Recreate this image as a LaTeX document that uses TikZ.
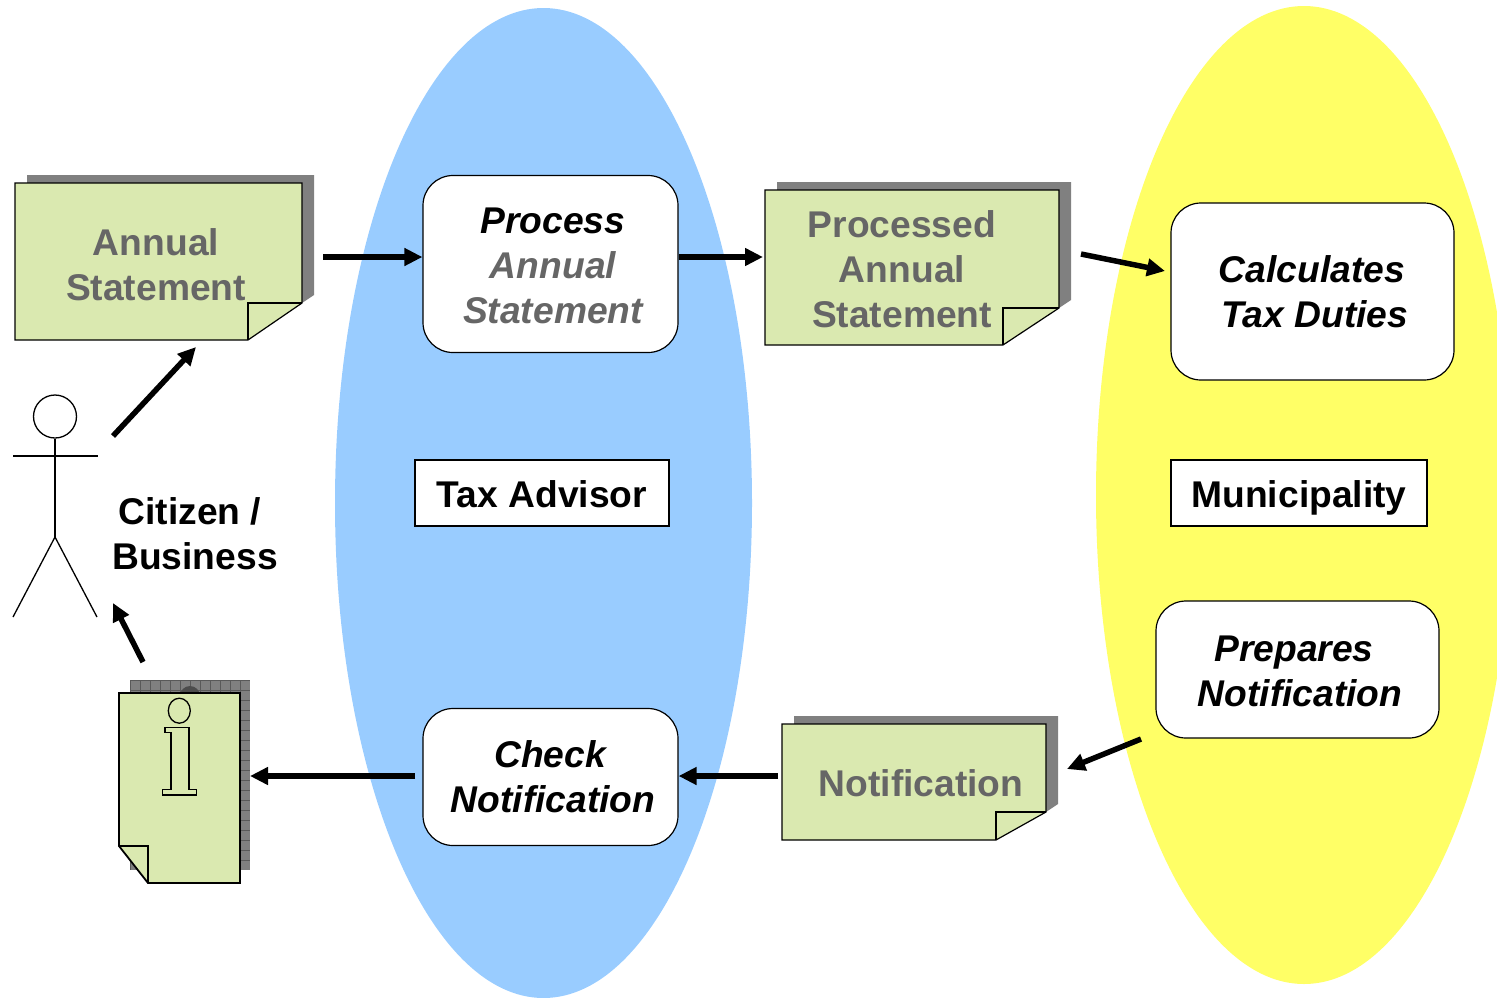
\documentclass[tikz,border=0pt]{standalone}
\usepackage{fontspec}
\setmainfont{Liberation Sans}
\usetikzlibrary{shapes.geometric,arrows.meta,positioning}
\definecolor{lblue}{RGB}{153,204,255}
\definecolor{lyellow}{RGB}{255,255,102}
\definecolor{lgreen}{RGB}{218,233,176}
\definecolor{dgrey}{RGB}{102,102,102}
\definecolor{sgrey}{RGB}{128,128,128}
\newcommand{\pad}{\hspace*{5pt}}
\newcommand{\topgap}{\rule{0pt}{30pt}}
\tikzset{
    actor/.style={
        ellipse, inner sep=0pt, draw=none
    },
    block/.style={
        rectangle, rounded corners=30pt,
        minimum width=255pt, minimum height=177pt,
        inner sep=0pt, align=center,
        draw=black, line width=1.2pt, fill=white,
        font=\fontsize{37.2}{45}\selectfont\bfseries\itshape
    },
    tag/.style={
        rectangle, minimum height=66pt,
        inner sep=0pt, align=center,
        text height=33pt, text depth=4pt,
        draw=black, line width=2pt, fill=white,
        font=\fontsize{37.2}{45}\selectfont\bfseries
    },
    notetext/.style={
        inner sep=0pt, align=center, text=dgrey,
        font=\fontsize{37.2}{45}\selectfont\bfseries
    },
    notebody/.style={
        draw=black, line width=1.2pt, fill=lgreen
    },
    figure/.style={
        draw=black, line width=1.3pt
    },
    connector/.style={
        line width=5.5pt,
        -{Triangle[length=18pt,width=17pt]}
    }
}
% #1 name, #2 left, #3 top, #4 right, #5 bottom, #6 fold x, #7 fold y, #8 text pos, #9 text
\newcommand{\docnote}[9]{
    \fill[sgrey] (#2+12,#3-8) -- (#4+12,#3-8) -- (#4+12,#7-8) -- (#4,#7) -- (#2+12,#7) -- cycle;
    \path[notebody] (#2,#3) -- (#4,#3) -- (#4,#7) -- (#6,#5) -- (#2,#5) -- cycle;
    \draw[notebody, fill=none] (#4,#7) -- (#6,#7) -- (#6,#5);
    \node[notetext] (#1) at (#8) {#9};
}
\begin{document}
\begin{tikzpicture}[x=1pt,y=-1pt]
    \useasboundingbox (0,0) rectangle (1497,997);

    \node[actor, fill=lblue, minimum width=417pt, minimum height=990pt] (advisor area) at (543.5,503) {};
    \node[actor, fill=lyellow, minimum width=416pt, minimum height=978pt] (municipality area) at (1304,495) {};

    \docnote{annual}{15}{183}{302}{340}{248}{303}{156,265}{Annual\\Statement}
    \docnote{processed}{765}{190}{1059}{345}{1003}{308}{902,269}{Processed\\Annual\\Statement}
    \docnote{notification}{782}{724}{1046}{840}{996}{812}{921,783}{Notification}

    \node[block] (process) at (550.5,264) {\topgap\pad Process\\\pad\textcolor{dgrey}{Annual}\\\pad\textcolor{dgrey}{Statement}};
    \node[block, minimum width=283pt] (calculates) at (1312.5,291.5) {Calculates\hspace*{1pt}\\\pad Tax Duties};
    \node[block, minimum width=283pt, minimum height=137pt] (prepares) at (1297.5,669.5) {\topgap Prepares\hspace*{7pt}\\\pad Notification};
    \node[block, minimum height=137pt] (check) at (550.5,777) {Check\hspace*{1pt}\\\pad Notification};

    \node[tag, minimum width=254pt] (advisor) at (542,493) {Tax Advisor};
    \node[tag, minimum width=256pt] (municipality) at (1299,493) {Municipality};

    % information sheet
    \fill[sgrey] (130,680) rectangle (250,870);
    \foreach \i in {0,...,11}
        \draw[black!65, line width=0.6pt] (130+10*\i,680) -- (130+10*\i,870);
    \foreach \i in {0,...,18}
        \draw[black!65, line width=0.6pt] (130,680+10*\i) -- (250,680+10*\i);
    \fill[black!70] (190,696) circle (10);
    \path[notebody, line width=1.8pt] (119,693) -- (240,693) -- (240,883) -- (148,883) -- (119,846) -- cycle;
    \draw[notebody, fill=none, line width=1.8pt] (119,846) -- (148,846) -- (148,883);
    \draw[figure] (179.3,710.7) ellipse (11 and 12.5);
    \draw[figure] (165,727.7) -- (189,727.7) -- (189,789.3) -- (196.7,789.3) -- (196.7,795)
        -- (162.3,795) -- (162.3,789.3) -- (171,789.3) -- (171,732.3) -- (165,732.3) -- cycle;
    \coordinate (sheet east) at (250,776);
    \coordinate (sheet top) at (143,662);

    % citizen
    \node[figure, circle, minimum size=43pt, inner sep=0pt] (head) at (55,416.5) {};
    \coordinate (hip) at (55,537);
    \draw[figure] (head.south) -- (hip);
    \draw[figure] (13,456) -- (98,456);
    \draw[figure] (13,617) -- (hip) -- (97,617);
    \node[inner sep=0pt, align=center, font=\fontsize{37.2}{45}\selectfont\bfseries] (citizen) at (195,533.5) {Citizen /\hspace*{10pt}\\Business};

    \coordinate (annual out) at (323,257);
    \coordinate (annual in) at (196,347);
    \coordinate (citizen out) at (113,436);
    \coordinate (citizen in) at (113,603);
    \coordinate (processed in) at (763,257);
    \coordinate (processed out) at (1081,254);
    \coordinate (calculates in) at (1165,271);
    \coordinate (prepares out) at (1141,739);
    \coordinate (notification in) at (1067,769);
    \coordinate (notification out) at (778,776);
    \coordinate (check out) at (415,776);

    \draw[connector] (citizen out) -- (annual in);
    \draw[connector] (annual out) -- (process.west |- annual out);
    \draw[connector] (process.east |- processed in) -- (processed in);
    \draw[connector] (processed out) -- (calculates in);
    \draw[connector] (prepares out) -- (notification in);
    \draw[connector] (notification out) -- (check.east |- notification out);
    \draw[connector] (check out) -- (sheet east);
    \draw[connector] (sheet top) -- (citizen in);
\end{tikzpicture}
\end{document}
